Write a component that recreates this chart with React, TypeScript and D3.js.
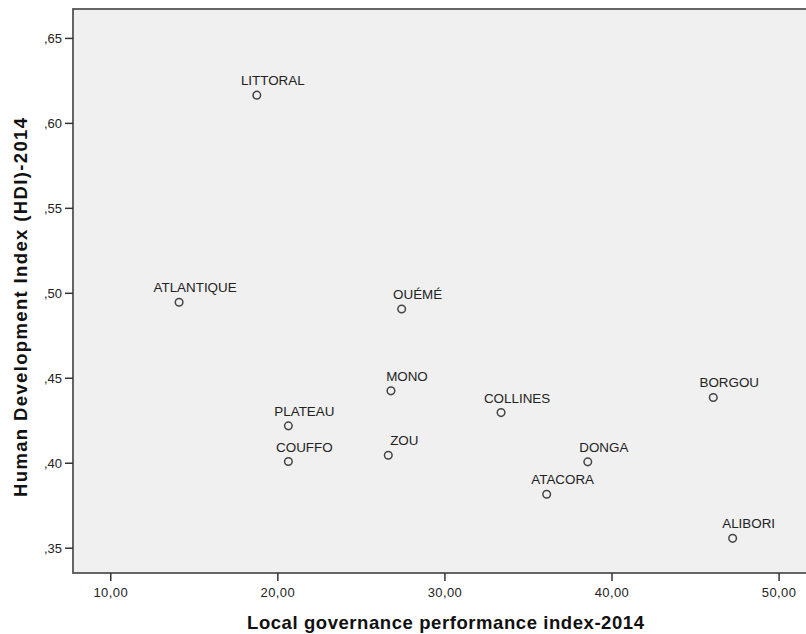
import React, { useEffect, useRef } from 'react'
import * as d3 from 'd3'

const regions = ['LITTORAL', 'ATLANTIQUE', 'OUÉMÉ', 'MONO', 'PLATEAU', 'COUFFO', 'ZOU', 'COLLINES', 'DONGA', 'ATACORA', 'BORGOU', 'ALIBORI']
const governance = [18.74, 14.09, 27.41, 26.77, 20.63, 20.63, 26.61, 33.36, 38.55, 36.09, 46.06, 47.22]
const hdi = [0.6166, 0.4947, 0.4908, 0.4426, 0.422, 0.401, 0.4047, 0.4298, 0.4008, 0.3817, 0.4387, 0.3558]

const xTicks = [10, 20, 30, 40, 50]
const yTicks = [0.35, 0.4, 0.45, 0.5, 0.55, 0.6, 0.65]

export default function App() {
  const svgRef = useRef<SVGSVGElement>(null)

  useEffect(() => {
    if (!svgRef.current) return
    const width = 806
    const height = 634
    const left = 73
    const top = 9
    const right = 812
    const bottom = 573

    const svg = d3.select(svgRef.current)
    svg.selectAll('*').remove()

    const x = d3.scaleLinear().domain([7.74, 51.85]).range([left, right - 2])
    const y = d3.scaleLinear().domain([0.3354, 0.6679]).range([bottom, top - 1])

    svg.append('rect')
      .attr('width', width).attr('height', height).attr('fill', '#fff')

    svg.append('rect')
      .attr('x', left).attr('y', top)
      .attr('width', right - left).attr('height', bottom - top)
      .attr('fill', '#f0f0f0')
      .attr('stroke', '#555')
      .attr('stroke-width', 1.8)

    const font = "'Liberation Sans', Arial, sans-serif"

    const xAxis = svg.append('g')
    xAxis.selectAll('line').data(xTicks).join('line')
      .attr('x1', d => x(d)).attr('x2', d => x(d))
      .attr('y1', bottom).attr('y2', bottom + 8)
      .attr('stroke', '#333').attr('stroke-width', 1.5)
    xAxis.selectAll('text').data(xTicks).join('text')
      .attr('x', d => x(d)).attr('y', bottom + 24)
      .attr('text-anchor', 'middle')
      .attr('font-family', font).attr('font-size', 13).attr('fill', '#222')
      .attr('letter-spacing', 0.4)
      .text(d => d3.format('.2f')(d).replace('.', ','))

    const yAxis = svg.append('g')
    yAxis.selectAll('line').data(yTicks).join('line')
      .attr('x1', left - 8).attr('x2', left)
      .attr('y1', d => y(d)).attr('y2', d => y(d))
      .attr('stroke', '#333').attr('stroke-width', 1.5)
    yAxis.selectAll('text').data(yTicks).join('text')
      .attr('x', left - 11).attr('y', d => y(d)).attr('dy', '0.35em')
      .attr('text-anchor', 'end')
      .attr('font-family', font).attr('font-size', 13).attr('fill', '#222')
      .text(d => d3.format('.2f')(d).replace('0.', ','))

    svg.append('text')
      .attr('x', 445.5).attr('y', 629)
      .attr('text-anchor', 'middle')
      .attr('font-family', font).attr('font-size', 18.5).attr('font-weight', 'bold')
      .attr('textLength', 397).attr('lengthAdjust', 'spacing')
      .attr('fill', '#111')
      .text('Local governance performance index-2014')

    svg.append('text')
      .attr('transform', `translate(27,307.5) rotate(-90)`)
      .attr('text-anchor', 'middle')
      .attr('font-family', font).attr('font-size', 18.5).attr('font-weight', 'bold')
      .attr('textLength', 379).attr('lengthAdjust', 'spacing')
      .attr('fill', '#111')
      .text('Human Development Index (HDI)-2014')

    const idx = d3.range(regions.length)
    const pts = svg.append('g')
    pts.selectAll('circle').data(idx).join('circle')
      .attr('cx', i => x(governance[i])).attr('cy', i => y(hdi[i]))
      .attr('r', 3.8)
      .attr('fill', 'none')
      .attr('stroke', '#444')
      .attr('stroke-width', 1.5)
    pts.selectAll('text').data(idx).join('text')
      .attr('x', i => x(governance[i]) + 16).attr('y', i => y(hdi[i]) - 10)
      .attr('text-anchor', 'middle')
      .attr('font-family', font).attr('font-size', 13.4).attr('fill', '#222')
      .text(i => regions[i])
  }, [])

  return (
    <svg ref={svgRef} width={806} height={634}
      style={{ position: 'absolute', left: 0, top: 0, display: 'block' }} />
  )
}
